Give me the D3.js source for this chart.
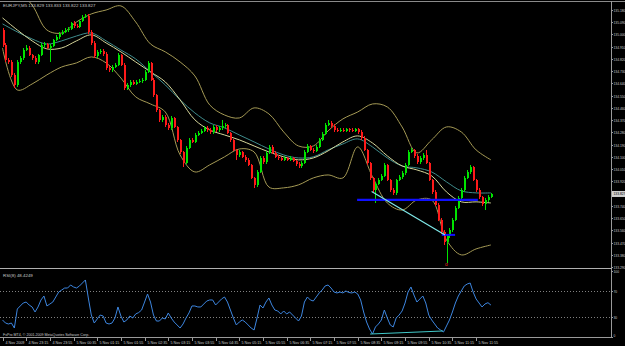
<!DOCTYPE html>
<html><head><meta charset="utf-8">
<script src="https://cdn.jsdelivr.net/npm/d3@7"></script>
<style>html,body{margin:0;padding:0;background:#000;overflow:hidden}svg{display:block}</style>
</head><body>
<svg id="c" width="625" height="346"></svg>
<script>
// ---------- DATA (EURJPY M5, 4-5 Nov 2009) ----------
const closeP = [
134.923,134.813,134.798,134.703,134.629,134.798,134.828,134.886,134.901,134.850,
134.828,134.798,134.850,134.923,134.930,134.901,134.916,134.960,134.982,135.004,
135.019,135.033,135.041,135.085,135.063,135.055,135.100,135.129,135.136,135.019,
134.938,134.842,134.872,134.879,134.857,134.754,134.739,134.761,134.776,134.850,
134.776,134.607,134.629,134.651,134.636,134.651,134.658,134.666,134.725,134.791,
134.666,134.555,134.445,134.372,134.394,134.335,134.313,134.386,134.320,134.225,
134.136,134.055,134.166,134.225,134.210,134.261,134.276,134.291,134.313,134.298,
134.283,134.320,134.298,134.313,134.328,134.335,134.276,134.225,134.151,134.114,
134.136,134.100,134.078,134.041,133.945,133.894,133.989,134.092,134.063,134.129,
134.173,134.129,134.100,134.092,134.078,134.092,134.078,134.092,134.070,134.048,
134.033,134.055,134.136,134.180,134.151,134.144,134.173,134.225,134.269,134.335,
134.350,134.328,134.298,134.291,134.298,134.291,134.305,134.298,134.291,134.305,
134.283,134.239,134.151,134.055,133.945,133.857,133.901,133.930,133.960,134.041,
133.930,133.857,133.835,133.930,133.953,133.982,134.041,134.136,134.151,134.107,
134.063,134.092,134.114,134.055,133.930,133.842,133.747,133.636,133.548,133.475,
133.519,133.563,133.636,133.725,133.798,133.857,133.945,133.989,134.026,133.930,
133.857,133.805,133.754,133.783,133.805,133.827];
const openP = [135.033,
134.923,134.813,134.798,134.703,134.629,134.798,134.828,134.886,134.901,134.850,
134.828,134.798,134.850,134.923,134.930,134.901,134.916,134.960,134.982,135.004,
135.019,135.033,135.041,135.085,135.063,135.055,135.100,135.129,135.136,135.019,
134.938,134.842,134.872,134.879,134.857,134.754,134.739,134.761,134.776,134.850,
134.776,134.607,134.629,134.651,134.636,134.651,134.658,134.666,134.725,134.791,
134.666,134.555,134.445,134.372,134.394,134.335,134.313,134.386,134.320,134.225,
134.136,134.055,134.166,134.225,134.210,134.261,134.276,134.291,134.313,134.298,
134.283,134.320,134.298,134.313,134.328,134.335,134.276,134.225,134.151,134.114,
134.136,134.100,134.078,134.041,133.945,133.894,133.989,134.092,134.063,134.129,
134.173,134.129,134.100,134.092,134.078,134.092,134.078,134.092,134.070,134.048,
134.033,134.055,134.136,134.180,134.151,134.144,134.173,134.225,134.269,134.335,
134.350,134.328,134.298,134.291,134.298,134.291,134.305,134.298,134.291,134.305,
134.283,134.239,134.151,134.055,133.945,133.857,133.901,133.930,133.960,134.041,
133.930,133.857,133.835,133.930,133.953,133.982,134.041,134.136,134.151,134.107,
134.063,134.092,134.114,134.055,133.930,133.842,133.747,133.636,133.548,133.475,
133.519,133.563,133.636,133.725,133.798,133.857,133.945,133.989,134.026,133.930,
133.857,133.805,133.754,133.783,133.805];
const highP = [
135.045,134.935,134.825,134.81,134.715,134.81,134.84,134.90,134.92,134.915,
134.86,134.84,134.86,134.935,134.945,134.94,134.93,134.97,134.995,135.015,
135.03,135.045,135.055,135.095,135.10,135.075,135.11,135.14,135.151,135.15,
135.03,134.95,134.885,134.895,134.89,134.87,134.765,134.775,134.79,134.865,
134.86,134.79,134.645,134.665,134.665,134.665,134.67,134.68,134.74,134.805,
134.80,134.68,134.565,134.455,134.41,134.405,134.35,134.40,134.395,134.33,
134.235,134.145,134.18,134.24,134.24,134.275,134.29,134.305,134.325,134.325,
134.31,134.335,134.335,134.325,134.372,134.35,134.345,134.285,134.235,134.16,
134.15,134.145,134.11,134.09,134.05,133.955,134.00,134.105,134.105,134.14,
134.19,134.185,134.14,134.11,134.10,134.105,134.10,134.105,134.10,134.08,
134.06,134.07,134.15,134.195,134.19,134.165,134.185,134.24,134.28,134.35,
134.372,134.365,134.34,134.31,134.31,134.31,134.315,134.315,134.31,134.315,
134.315,134.295,134.25,134.16,134.065,133.955,133.915,133.945,133.975,134.055,
134.05,133.94,133.87,133.94,133.965,133.995,134.055,134.15,134.166,134.16,
134.12,134.105,134.125,134.151,134.065,133.94,133.855,133.76,133.65,133.56,
133.53,133.575,133.65,133.74,133.81,133.87,133.96,134.00,134.04,134.035,
133.94,133.87,133.815,133.795,133.82,133.833];
const lowP = [
134.91,134.80,134.785,134.69,134.607,134.615,134.785,134.815,134.875,134.84,
134.815,134.785,134.785,134.84,134.91,134.89,134.80,134.905,134.95,134.97,
134.995,135.01,135.02,135.03,135.05,135.045,135.045,135.09,135.12,135.005,
134.925,134.83,134.83,134.86,134.845,134.74,134.725,134.725,134.75,134.765,
134.765,134.59,134.595,134.615,134.625,134.625,134.64,134.645,134.655,134.715,
134.655,134.54,134.43,134.36,134.36,134.32,134.30,134.30,134.31,134.21,
134.12,134.026,134.045,134.155,134.20,134.20,134.25,134.265,134.28,134.285,
134.27,134.27,134.285,134.285,134.30,134.315,134.265,134.21,134.14,134.078,
134.10,134.09,134.065,134.03,133.935,133.872,133.88,133.98,134.05,134.05,
134.12,134.12,134.09,134.08,134.07,134.07,134.07,134.07,134.06,134.035,
134.02,134.02,134.045,134.125,134.14,134.13,134.135,134.165,134.215,134.26,
134.325,134.315,134.285,134.28,134.28,134.28,134.28,134.285,134.28,134.28,
134.27,134.225,134.14,134.04,133.93,133.845,133.761,133.89,133.92,133.95,
133.92,133.845,133.82,133.82,133.92,133.94,133.97,134.03,134.125,134.095,
134.05,134.05,134.08,134.045,133.92,133.83,133.735,133.625,133.535,133.452,
133.32,133.505,133.55,133.625,133.715,133.785,133.845,133.935,133.975,133.92,
133.845,133.79,133.74,133.709,133.77,133.795];

// Indicator lines read at every 5th bar
const bandIdx = [0,5,10,15,20,25,30,35,40,45,50,55,60,65,70,75,80,85,90,95,100,105,110,115,120,125,130,135,140,145,150,155,160,165];
const upperBand = [135.438,135.328,135.217,135.033,135.011,135.092,135.151,135.180,135.210,135.092,134.930,134.872,134.798,134.695,134.482,134.408,134.386,134.460,134.416,134.283,134.180,134.180,134.291,134.379,134.430,134.489,134.467,134.320,134.129,134.225,134.320,134.283,134.151,134.078];
const middleBand = [135.122,135.033,134.953,134.894,134.901,134.953,134.997,134.938,134.872,134.798,134.725,134.651,134.519,134.372,134.298,134.261,134.225,134.180,134.136,134.100,134.078,134.092,134.144,134.210,134.254,134.202,134.107,134.033,134.004,133.960,133.842,133.769,133.769,133.761];
const lowerBand = [134.901,134.592,134.636,134.703,134.761,134.791,134.835,134.791,134.680,134.541,134.489,134.430,134.114,133.989,134.041,134.100,134.158,134.136,133.878,133.872,133.894,133.945,133.967,133.945,134.173,133.953,133.761,133.709,133.783,133.783,133.489,133.379,133.423,133.452];
const maLine = [135.078,135.019,134.967,134.930,134.953,134.989,135.011,134.953,134.886,134.820,134.725,134.629,134.519,134.423,134.350,134.313,134.261,134.210,134.158,134.114,134.092,134.100,134.151,134.195,134.232,134.173,134.092,134.033,134.019,133.989,133.916,133.850,133.835,133.835];

const rsiValues = [
25.8,21.2,19.7,21.2,13.6,42.4,47.0,51.5,53.0,48.5,
45.5,37.9,45.5,56.1,62.1,47.0,50.0,53.0,60.6,68.2,
71.2,74.2,74.2,78.8,75.8,74.2,77.3,81.8,86.4,59.1,
33.3,21.2,27.3,33.3,31.8,21.2,19.7,21.2,28.8,45.5,
31.8,22.7,25.8,31.8,28.8,34.9,37.0,40.9,53.0,65.2,
53.0,33.3,24.2,24.2,28.8,27.3,36.4,28.8,22.7,18.2,
13.6,19.7,28.8,36.4,47.0,47.0,45.5,45.5,50.0,54.5,
56.1,56.1,48.5,53.0,57.6,60.6,53.0,40.9,28.8,18.2,
22.7,25.8,22.7,18.2,13.6,10.6,28.8,48.5,43.9,53.0,
59.1,48.5,40.9,39.4,34.9,39.4,34.9,37.9,33.3,28.8,
24.2,31.8,53.0,60.6,56.1,54.5,60.6,66.7,71.2,77.3,
78.8,74.2,68.2,66.7,68.2,66.7,69.7,67.5,66.7,68.2,
65.2,56.1,37.9,22.7,12.1,4.5,15.2,19.7,25.8,40.9,
28.8,18.2,15.2,28.8,33.3,39.4,51.5,68.2,75.8,63.6,
53.0,57.6,62.1,51.5,33.3,25.8,19.7,13.6,10.6,7.6,
16.7,25.8,37.9,51.5,62.1,69.7,77.3,80.3,81.8,68.2,
57.6,51.5,45.5,50.0,52.0,48.4];
const rsiLevels = [70, 30];
const rsiAxis = [100, 70, 30, 0];

const priceTicks = [135.180,135.090,135.000,134.910,134.820,134.730,134.640,134.550,134.460,134.370,134.280,134.190,134.100,134.010,133.920,133.830,133.740,133.650,133.560,133.470,133.380,133.290];
const timeLabels = ["4 Nov 2009","4 Nov 23:15","4 Nov 23:55","5 Nov 00:35","5 Nov 01:15","5 Nov 01:55","5 Nov 02:35","5 Nov 03:15","5 Nov 03:55","5 Nov 04:35","5 Nov 05:15","5 Nov 05:55","5 Nov 06:35","5 Nov 07:15","5 Nov 07:55","5 Nov 08:35","5 Nov 09:15","5 Nov 09:55","5 Nov 10:35","5 Nov 11:15","5 Nov 11:55"];
const timeLabelBars = [0,8,16,24,32,40,48,56,64,72,80,88,96,104,112,120,128,136,144,152,160];

// drawn objects (bar index, price)
const supportLevel = [[119.8,133.783],[160.6,133.783]];
const shortLevel = [[148.4,133.526],[152.9,133.526]];
const trendLine = [[124.7,133.845],[149.5,133.526]];
const rsiTrend = [[124.2,4.5],[148.8,9.1]];
const arrowMark = [150, 133.31];

const titleText = "EURJPY,M5  133.829 133.833 133.822 133.827";
const rsiTitle = "RSI(8) 48.4249";
const footerText = "FxPro MT4, \u00A9 2001-2009 MetaQuotes Software Corp.";
const lastPrice = 133.827;

// ---------- LAYOUT ----------
const W = 625, H = 346, axisX = 611, mainTop = 1, mainBot = 268, rsiTop = 270, rsiBot = 337;
const svg = d3.select("#c");
svg.append("rect").attr("width",W).attr("height",H).attr("fill","#000");

const x = d3.scaleLinear().domain([0,165]).range([2.5, 490.9]);
const y = d3.scaleLinear().domain([133.29, 135.18]).range([267, 10]);
const yr = d3.scaleLinear().domain([0,100]).range([rsiBot, 271]);

const defs = svg.append("defs");
defs.append("clipPath").attr("id","mc").append("rect").attr("x",0).attr("y",mainTop+1).attr("width",axisX).attr("height",mainBot-mainTop-1);
defs.append("clipPath").attr("id","rc").append("rect").attr("x",0).attr("y",rsiTop).attr("width",axisX).attr("height",rsiBot-rsiTop);

const TXT = "#c8c8c8", FONT = "Liberation Sans, Arial, sans-serif";

// frames
svg.append("line").attr("x1",0).attr("x2",W).attr("y1",1.5).attr("y2",1.5).attr("stroke","#8a8a8a");
svg.append("line").attr("x1",axisX+0.5).attr("x2",axisX+0.5).attr("y1",1).attr("y2",rsiBot).attr("stroke","#9a9a9a");
svg.append("line").attr("x1",0).attr("x2",axisX+1).attr("y1",mainBot+0.5).attr("y2",mainBot+0.5).attr("stroke","#b0b0b0");
svg.append("line").attr("x1",0).attr("x2",axisX+1).attr("y1",rsiBot+0.5).attr("y2",rsiBot+0.5).attr("stroke","#9a9a9a");

const main = svg.append("g").attr("clip-path","url(#mc)");

// bands & MA
const bl = d3.line().x(d=>x(d[0])).y(d=>y(d[1])).curve(d3.curveCatmullRom.alpha(0.5));
const series = [[upperBand,"#a59a55"],[lowerBand,"#a59a55"],[maLine,"#3f8c8c"],[middleBand,"#d6d69a"]];
series.forEach(([arr,col])=>{
  main.append("path").attr("d", bl(bandIdx.map((b,i)=>[b,arr[i]]))).attr("fill","none").attr("stroke",col).attr("stroke-width",1);
});

// candles
const bars = closeP.map((c,i)=>({i, o:openP[i], h:highP[i], l:lowP[i], c}));
const cg = main.append("g").attr("shape-rendering","crispEdges");
bars.forEach(d=>{
  const col = d.c >= d.o ? "#00e400" : "#ff1a1a";
  const cx = Math.round(x(d.i));
  cg.append("line").attr("x1",cx+0.5).attr("x2",cx+0.5).attr("y1",y(d.h)).attr("y2",y(d.l)).attr("stroke",col);
  const t = y(Math.max(d.o,d.c)), b = y(Math.min(d.o,d.c));
  cg.append("rect").attr("x",cx-0.5).attr("y",t).attr("width",2).attr("height",Math.max(1,b-t)).attr("fill",col);
});

// drawn objects
const pl = d3.line().x(d=>x(d[0])).y(d=>y(d[1]));
main.append("path").attr("d",pl(supportLevel)).attr("stroke","#1010ff").attr("stroke-width",2.2).attr("fill","none");
main.append("path").attr("d",pl(shortLevel)).attr("stroke","#1010ff").attr("stroke-width",2).attr("fill","none");
main.append("path").attr("d",pl(trendLine)).attr("stroke","#7fe8e8").attr("stroke-width",1.2).attr("fill","none");
main.append("text").attr("x",x(arrowMark[0])).attr("y",y(arrowMark[1])+2).attr("text-anchor","middle")
  .attr("font-size","5px").attr("font-family",FONT).attr("fill","#e03020").text("o");

// RSI panel
const rg = svg.append("g").attr("clip-path","url(#rc)");
rsiLevels.forEach(v=>{
  rg.append("line").attr("x1",0).attr("x2",axisX).attr("y1",Math.round(yr(v))+0.5).attr("y2",Math.round(yr(v))+0.5)
    .attr("stroke","#808080").attr("stroke-dasharray","1,2");
});
const rl = d3.line().x((d,i)=>x(i)).y(d=>yr(d));
rg.append("path").attr("d",rl(rsiValues)).attr("fill","none").attr("stroke","#3d86e0").attr("stroke-width",1);
rg.append("path").attr("d",d3.line().x(d=>x(d[0])).y(d=>yr(d[1]))(rsiTrend)).attr("fill","none").attr("stroke","#40c8c8").attr("stroke-width",1);

// right price axis (labels kept inside the window)
const ax = svg.append("g").attr("font-family",FONT).attr("font-size","3.3px").attr("fill",TXT);
priceTicks.forEach(p=>{
  const yy = Math.round(y(p))+0.5;
  ax.append("line").attr("x1",axisX).attr("x2",axisX+2).attr("y1",yy).attr("y2",yy).attr("stroke","#9a9a9a");
  ax.append("text").attr("x",axisX+2.5).attr("y",yy+1.2).text(p.toFixed(3));
});
// last price marker
const ly = y(lastPrice);
ax.append("rect").attr("x",axisX+1).attr("y",ly-3).attr("width",W-axisX-1).attr("height",6).attr("fill","#d0d0d0");
ax.append("text").attr("x",axisX+2.5).attr("y",ly+1.2).attr("fill","#000").text(lastPrice.toFixed(3));

// RSI axis labels
rsiAxis.forEach(v=>{
  const yy = Math.round(yr(v))+0.5;
  ax.append("line").attr("x1",axisX).attr("x2",axisX+2).attr("y1",yy).attr("y2",yy).attr("stroke","#9a9a9a");
  ax.append("text").attr("x",axisX+2.5).attr("y",Math.min(yy+1.2,337)).text(v);
});

// time axis
const tx = svg.append("g").attr("font-family",FONT).attr("font-size","3.7px").attr("fill",TXT);
timeLabels.forEach((t,k)=>{
  const xx = Math.round(x(timeLabelBars[k]))+0.5;
  tx.append("line").attr("x1",xx).attr("x2",xx).attr("y1",rsiBot).attr("y2",rsiBot+4).attr("stroke","#9a9a9a");
  tx.append("text").attr("x",xx+2).attr("y",344).text(t);
});

// titles
svg.append("text").attr("x",3).attr("y",7).attr("font-family",FONT).attr("font-size","4.4px").attr("fill",TXT).text(titleText);
svg.append("text").attr("x",3).attr("y",277).attr("font-family",FONT).attr("font-size","4.4px").attr("fill",TXT).text(rsiTitle);
svg.append("text").attr("x",3).attr("y",335.5).attr("font-family",FONT).attr("font-size","3.6px").attr("fill",TXT).text(footerText);
</script>
</body></html>
